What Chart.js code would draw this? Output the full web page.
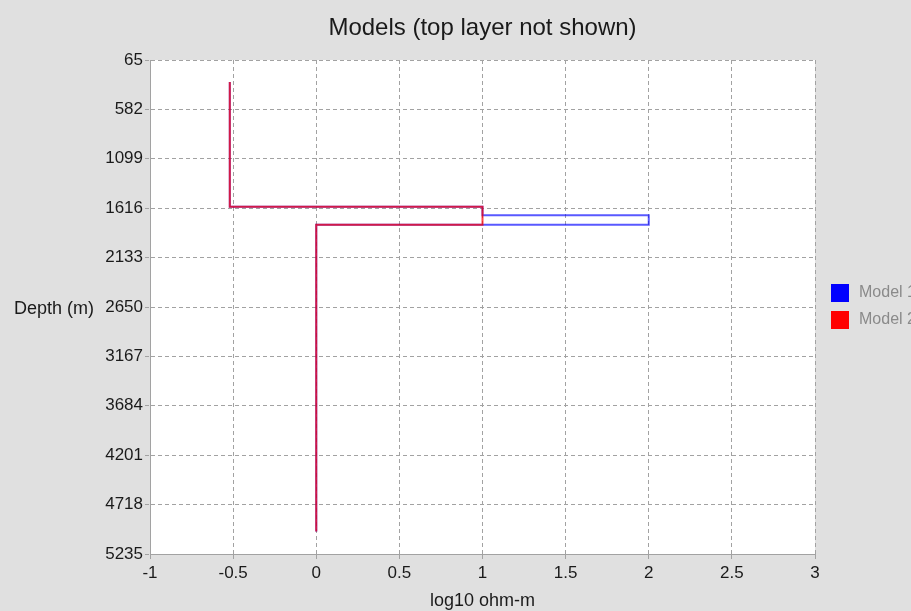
<!DOCTYPE html>
<html>
<head>
<meta charset="utf-8">
<title>Models</title>
<script src="https://cdn.jsdelivr.net/npm/chart.js@4.4.1/dist/chart.umd.min.js"></script>
<style>
  html, body { margin: 0; padding: 0; background: #e0e0e0; overflow: hidden; }
  #wrap { width: 911px; height: 611px; position: relative; }
</style>
</head>
<body>
<div id="wrap"><canvas id="c" width="911" height="611"></canvas></div>
<script>
// Layered resistivity models: log10 resistivity vs depth, step profiles
const seriesNames = ['Model 1', 'Model 2'];
const model1Res   = [-0.52, -0.52, 1, 1, 2, 2, 0, 0];
const model1Depth = [295, 1600, 1600, 1690, 1690, 1790, 1790, 5000];
const model2Res   = [-0.52, -0.52, 1, 1, 0, 0];
const model2Depth = [295, 1600, 1600, 1790, 1790, 5000];
const depthTicks  = [65, 582, 1099, 1616, 2133, 2650, 3167, 3684, 4201, 4718, 5235];
const resTicks    = [-1, -0.5, 0, 0.5, 1, 1.5, 2, 2.5, 3];

const FONT = '"Liberation Sans", Arial, Helvetica, sans-serif';
const zip = (xs, ys) => xs.map((x, i) => ({ x: x, y: ys[i] }));

const legendColors = ['#0000ff', '#ff0000'];
const GRID = '#a2a2a2';
const DASH = [4, 3];

// Background, title, horizontal y-axis title, x-axis title and the legend
const decorations = {
  id: 'decorations',
  beforeDraw(chart) {
    const ctx = chart.ctx;
    ctx.save();
    ctx.fillStyle = '#e0e0e0';
    ctx.fillRect(0, 0, chart.width, chart.height);
    const a = chart.chartArea;
    ctx.fillStyle = '#ffffff';
    ctx.fillRect(a.left, a.top, a.right - a.left, a.bottom - a.top);
    ctx.restore();
  },
  afterDraw(chart) {
    const ctx = chart.ctx;
    const a = chart.chartArea;
    ctx.save();
    ctx.fillStyle = '#1a1a1a';
    ctx.textAlign = 'center';
    ctx.textBaseline = 'middle';
    ctx.font = '24px ' + FONT;
    ctx.fillText('Models (top layer not shown)', (a.left + a.right) / 2, 28);

    ctx.font = '18px ' + FONT;
    ctx.fillText('log10 ohm-m', (a.left + a.right) / 2, 601);

    ctx.textAlign = 'left';
    ctx.fillText('Depth (m)', 14, 309);

    // legend
    chart.data.datasets.forEach((ds, i) => {
      const y = 284 + i * 27;
      ctx.fillStyle = legendColors[i];
      ctx.fillRect(831, y, 18, 18);
      ctx.fillStyle = '#8a8a8a';
      ctx.font = '16px ' + FONT;
      ctx.textAlign = 'left';
      ctx.fillText(ds.label, 859, y + 9);
    });
    ctx.restore();
  }
};

new Chart(document.getElementById('c'), {
  type: 'line',
  data: {
    datasets: [
      {
        label: seriesNames[0],
        data: zip(model1Res, model1Depth),
        borderColor: 'rgba(0,0,255,0.65)',
        borderWidth: 2,
        pointRadius: 0,
        tension: 0,
        fill: false,
        order: 2
      },
      {
        label: seriesNames[1],
        data: zip(model2Res, model2Depth),
        borderColor: 'rgba(255,0,0,0.72)',
        borderWidth: 2,
        pointRadius: 0,
        tension: 0,
        fill: false,
        order: 1
      }
    ]
  },
  options: {
    responsive: false,
    animation: false,
    devicePixelRatio: 1,
    layout: { padding: { top: 60, right: 96, left: 0, bottom: 0 } },
    plugins: {
      legend: { display: false },
      title: { display: false },
      tooltip: { enabled: false }
    },
    scales: {
      x: {
        type: 'linear',
        min: resTicks[0],
        max: resTicks[resTicks.length - 1],
        afterBuildTicks(scale) { scale.ticks = resTicks.map(v => ({ value: v })); },
        afterFit(scale) { scale.height = 57; },
        ticks: {
          color: '#1a1a1a',
          font: { family: FONT, size: 17 },
          padding: 4,
          maxRotation: 0,
          autoSkip: false,
          callback: v => String(v)
        },
        grid: { color: GRID, tickColor: GRID, lineWidth: 1, tickLength: 5, tickBorderDash: DASH },
        border: { color: GRID, dash: DASH, width: 1 }
      },
      y: {
        type: 'linear',
        reverse: true,
        min: depthTicks[0],
        max: depthTicks[depthTicks.length - 1],
        afterBuildTicks(scale) { scale.ticks = depthTicks.map(v => ({ value: v })); },
        afterFit(scale) { scale.width = 150; },
        ticks: {
          color: '#1a1a1a',
          font: { family: FONT, size: 17 },
          padding: 2,
          autoSkip: false,
          callback: v => String(v)
        },
        grid: { color: GRID, tickColor: GRID, lineWidth: 1, tickLength: 5, tickBorderDash: DASH },
        border: { color: GRID, dash: DASH, width: 1 }
      }
    }
  },
  plugins: [decorations]
});
</script>
</body>
</html>
